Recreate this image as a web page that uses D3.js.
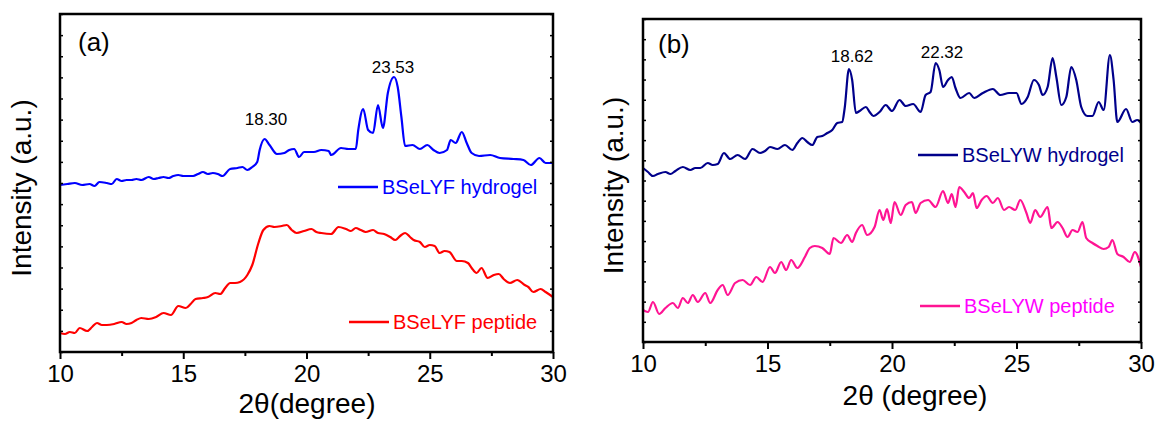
<!DOCTYPE html>
<html>
<head>
<meta charset="utf-8">
<script src="https://cdn.jsdelivr.net/npm/d3@7"></script>
<style>
  body { margin: 0; background: #fff; }
  svg text { font-family: Arial, "Liberation Sans", sans-serif; }
</style>
</head>
<body>
<script>
// 2theta (degree), intensity (a.u.)
var hydrogelA = [
  [10.0,167],[10.3,168],[10.6,169],[10.9,167],[11.2,168],[11.4,166],[11.6,170],[11.9,169],[12.1,168],
  [12.3,173],[12.5,171],[12.7,172],[12.9,172],[13.1,173],[13.3,172],[13.6,175],[13.8,173],[14.0,174],
  [14.2,175],[14.4,174],[14.6,176],[14.8,177],[15.0,176],[15.4,176],[15.6,178],[15.8,180],[16.0,178],
  [16.2,179],[16.4,178],[16.6,176],[16.9,183],[17.2,184],[17.4,185],[17.6,182],[17.8,185],[18.0,190],
  [18.1,202],[18.3,213],[18.5,207],[18.8,198],[19.1,199],[19.3,202],[19.5,203],[19.7,195],[19.9,200],
  [20.3,200],[20.6,202],[20.9,201],[21.0,197],[21.4,204],[21.7,203],[22.0,203],[22.1,222],[22.3,243],
  [22.5,222],[22.7,219],[22.9,247],[23.1,224],[23.3,259],[23.55,275],[23.7,265],[23.85,235],[24.0,206],
  [24.3,207],[24.6,203],[24.9,207],[25.15,202],[25.4,199],[25.7,202],[25.85,212],[26.05,209],[26.3,220],
  [26.5,209],[26.7,199],[27.0,196],[27.45,197],[27.85,194],[28.4,193],[28.8,192],[29.1,187],[29.45,194],
  [29.7,189],[30.0,189]
];
var peptideA = [
  [10.0,19],[10.2,18],[10.4,20],[10.6,19],[10.8,24],[11.1,21],[11.3,25],[11.5,29],[11.7,27],[11.9,27],
  [12.2,28],[12.5,30],[12.7,28],[12.9,29],[13.1,32],[13.3,34],[13.6,33],[13.9,35],[14.2,39],[14.5,37],
  [14.8,46],[15.1,44],[15.3,48],[15.5,53],[15.8,54],[16.0,55],[16.3,59],[16.5,58],[16.7,64],[16.9,69],
  [17.1,69],[17.3,70],[17.6,77],[17.8,87],[18.05,109],[18.25,122],[18.5,126],[18.7,125],[19.0,126],
  [19.2,127],[19.4,122],[19.6,119],[19.9,121],[20.2,123],[20.4,120],[20.6,119],[21.0,118],[21.3,125],
  [21.6,123],[21.8,121],[22.0,124],[22.2,122],[22.4,120],[22.7,122],[22.9,119],[23.15,118],[23.4,115],
  [23.6,112],[23.8,116],[24.0,119],[24.2,115],[24.35,112],[24.6,110],[24.8,105],[25.0,107],[25.2,106],
  [25.4,99],[25.6,101],[25.8,100],[26.1,91],[26.3,91],[26.55,89],[26.7,84],[26.9,79],[27.1,84],
  [27.35,74],[27.6,77],[27.8,78],[28.0,73],[28.25,69],[28.55,72],[28.85,67],[29.0,65],[29.2,60],
  [29.5,63],[29.7,60],[30.0,55]
];
var hydrogelB = [
  [10.0,174],[10.2,170],[10.4,166],[10.6,168],[10.9,170],[11.1,168],[11.3,171],[11.6,175],[11.9,172],
  [12.1,174],[12.3,174],[12.6,179],[12.8,177],[13.0,178],[13.25,189],[13.5,183],[13.8,187],[14.1,183],
  [14.4,193],[14.7,189],[14.9,191],[15.1,195],[15.4,193],[15.7,197],[16.0,192],[16.2,199],[16.4,204],
  [16.6,200],[16.8,197],[17.0,205],[17.2,206],[17.4,209],[17.6,212],[17.8,219],[18.0,220],[18.1,234],
  [18.27,273],[18.4,262],[18.55,229],[18.7,231],[18.95,235],[19.1,230],[19.25,226],[19.5,230],[19.75,237],
  [20.0,231],[20.3,242],[20.55,236],[20.85,238],[21.15,230],[21.35,247],[21.55,250],[21.75,279],
  [21.9,272],[22.05,255],[22.25,262],[22.4,265],[22.55,254],[22.75,244],[23.1,249],[23.3,244],[23.65,249],
  [24.05,253],[24.35,247],[24.7,249],[25.0,249],[25.2,238],[25.45,245],[25.7,262],[25.9,257],[26.05,247],
  [26.25,255],[26.45,284],[26.6,265],[26.8,237],[27.0,245],[27.2,275],[27.4,262],[27.6,235],[27.85,226],
  [28.05,226],[28.3,240],[28.5,232],[28.75,287],[28.9,262],[29.05,220],[29.4,233],[29.65,220],[29.85,222],
  [30.0,219]
];
var peptideB = [
  [10.0,32],[10.2,30],[10.4,40],[10.65,28],[10.9,34],[11.2,39],[11.4,34],[11.6,44],[11.8,39],[12.0,47],
  [12.2,40],[12.5,49],[12.7,39],[13.0,52],[13.2,57],[13.4,47],[13.7,59],[14.0,62],[14.3,57],[14.55,65],
  [14.8,60],[15.1,75],[15.3,69],[15.55,80],[15.75,72],[15.95,82],[16.2,74],[16.5,85],[16.7,94],[16.9,96],
  [17.2,94],[17.5,88],[17.65,104],[17.95,99],[18.2,107],[18.4,100],[18.55,109],[18.8,117],[19.0,107],
  [19.3,115],[19.5,132],[19.65,122],[19.8,133],[19.95,119],[20.1,140],[20.35,127],[20.55,137],[20.8,140],
  [20.95,129],[21.15,139],[21.45,142],[21.75,135],[22.05,151],[22.25,139],[22.4,148],[22.55,135],
  [22.7,155],[22.9,150],[23.1,144],[23.25,149],[23.4,134],[23.6,142],[23.8,146],[24.05,139],[24.25,144],
  [24.5,132],[24.7,135],[24.95,132],[25.15,142],[25.4,129],[25.55,119],[25.75,132],[25.95,125],[26.25,135],
  [26.4,114],[26.65,120],[26.85,114],[27.05,105],[27.25,112],[27.45,110],[27.65,120],[27.8,104],[28.05,99],
  [28.25,96],[28.5,93],[28.7,95],[28.85,102],[29.05,88],[29.3,85],[29.55,80],[29.75,90],[30.0,75]
];

var xTicks = [10, 15, 20, 25, 30];
var xMinor = [12.5, 17.5, 22.5, 27.5];

var panels = [
  { left: 60, right: 553, top: 14, bottom: 352, tag: '(a)', tagX: 78, tagY: 51,
    xTitle: '2\u03b8(degree)', xTitleX: 307, xTitleY: 413, yTitleX: 31,
    series: [
      { data: hydrogelA, color: '#0000ff', text: '#0000ff', label: 'BSeLYF hydrogel', lx: 338, ly: 187 },
      { data: peptideA, color: '#ff0000', text: '#ff0000', label: 'BSeLYF peptide', lx: 349, ly: 322 }
    ],
    peaks: [ { t: '18.30', x: 266, y: 125 }, { t: '23.53', x: 393, y: 73 } ] },
  { left: 643, right: 1141, top: 19, bottom: 342, tag: '(b)', tagX: 658, tagY: 53,
    xTitle: '2\u03b8 (degree)', xTitleX: 915, xTitleY: 405, yTitleX: 623,
    series: [
      { data: hydrogelB, color: '#00008b', text: '#00008b', label: 'BSeLYW hydrogel', lx: 918, ly: 155 },
      { data: peptideB, color: '#ff1493', text: '#ff00ff', label: 'BSeLYW peptide', lx: 920, ly: 306 }
    ],
    peaks: [ { t: '18.62', x: 852, y: 62 }, { t: '22.32', x: 942, y: 58 } ] }
];

var svg = d3.select('body').append('svg')
    .attr('width', 1160)
    .attr('height', 421);

panels.forEach(function(p) {
  var h = p.bottom - p.top;
  var x = d3.scaleLinear().domain([10, 30]).range([p.left, p.right]);
  var y = d3.scaleLinear().domain([0, h]).range([p.bottom, p.top]);
  var yt = d3.range(0, 17).map(function(i) { return i * h / 16; });

  var g = svg.append('g');

  // curves
  p.series.forEach(function(s) {
    g.append('path')
      .datum(s.data)
      .attr('fill', 'none')
      .attr('stroke', s.color)
      .attr('stroke-width', 2.2)
      .attr('stroke-linejoin', 'round')
      .attr('d', d3.line().curve(d3.curveMonotoneX)
        .x(function(d) { return x(d[0]); }).y(function(d) { return y(d[1]); }));

    g.append('line')
      .attr('x1', s.lx).attr('x2', s.lx + 40)
      .attr('y1', s.ly).attr('y2', s.ly)
      .attr('stroke', s.color).attr('stroke-width', 2.5);
    g.append('text')
      .attr('x', s.lx + 44).attr('y', s.ly + 7)
      .attr('fill', s.text)
      .style('font-size', '20px')
      .text(s.label);
  });

  // x axis
  var xa = g.append('g')
    .attr('transform', 'translate(0,' + p.bottom + ')')
    .call(d3.axisBottom(x).tickValues(xTicks).tickSize(7).tickPadding(6).tickFormat(d3.format('d')));
  xa.select('.domain').remove();
  xa.selectAll('line').attr('stroke-width', 2);
  xa.selectAll('text').style('font-size', '24px').attr('fill', '#000');
  g.append('g')
    .attr('transform', 'translate(0,' + p.bottom + ')')
    .call(d3.axisBottom(x).tickValues(xMinor).tickSize(4).tickFormat(''))
    .call(function(a) { a.select('.domain').remove(); a.selectAll('line').attr('stroke-width', 2); });

  // y ticks, inward on both sides
  g.append('g')
    .attr('transform', 'translate(' + p.left + ',0)')
    .call(d3.axisRight(y).tickValues(yt).tickSize(3).tickFormat(''))
    .call(function(a) { a.select('.domain').remove(); a.selectAll('line').attr('stroke-width', 1.5); });
  g.append('g')
    .attr('transform', 'translate(' + p.right + ',0)')
    .call(d3.axisLeft(y).tickValues(yt).tickSize(3).tickFormat(''))
    .call(function(a) { a.select('.domain').remove(); a.selectAll('line').attr('stroke-width', 1.5); });

  // frame
  g.append('rect')
    .attr('x', p.left).attr('y', p.top)
    .attr('width', p.right - p.left).attr('height', h)
    .attr('fill', 'none').attr('stroke', '#000').attr('stroke-width', 2.5);

  g.append('text')
    .attr('x', p.tagX).attr('y', p.tagY)
    .style('font-size', '26px')
    .text(p.tag);

  p.peaks.forEach(function(k) {
    g.append('text')
      .attr('x', k.x).attr('y', k.y)
      .attr('text-anchor', 'middle')
      .style('font-size', '17px')
      .text(k.t);
  });

  g.append('text')
    .attr('x', p.xTitleX).attr('y', p.xTitleY)
    .attr('text-anchor', 'middle')
    .style('font-size', '28px')
    .text(p.xTitle);

  g.append('text')
    .attr('transform', 'translate(' + p.yTitleX + ',' + (p.top + h / 2 + 5) + ') rotate(-90)')
    .attr('text-anchor', 'middle')
    .style('font-size', '28px')
    .text('Intensity (a.u.)');
});
</script>
</body>
</html>
